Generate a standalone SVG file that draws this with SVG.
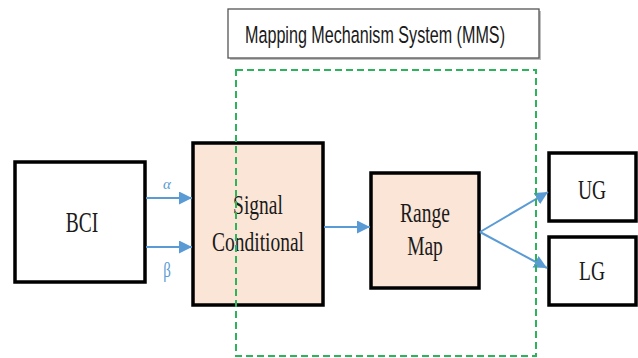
<svg xmlns="http://www.w3.org/2000/svg" width="638" height="358" viewBox="0 0 638 358">
<defs>
<style>
.box{fill:#ffffff;stroke:#000000;stroke-width:3.5}
.proc{fill:#FBE5D6;stroke:#000000;stroke-width:3.5}
.lbl{font-family:'Times New Roman','Liberation Serif','DejaVu Serif',serif;font-size:19.5px;fill:#1a1a1a;text-anchor:middle}
.conn{stroke:#5B9BD5;stroke-width:2;fill:none}
.greek{font-family:'Times New Roman','Liberation Serif',serif;fill:#5B9BD5;text-anchor:middle}
</style>
<marker id="ah" viewBox="0 0 10 10" refX="10" refY="5" markerWidth="6.5" markerHeight="6.5" orient="auto" markerUnits="strokeWidth">
<path d="M0,0 L10,5 L0,10 z" fill="#5B9BD5"/>
</marker>
</defs>
<rect width="638" height="358" fill="#ffffff"/>

<g id="mms-title">
<rect x="230" y="11" width="311" height="49" fill="#bfbfbf"/>
<rect x="228" y="9" width="311" height="49" fill="#ffffff" stroke="#555555" stroke-width="1.3"/>
<text transform="translate(245,43) scale(1,1.4)" font-family="'Liberation Sans', Arial, sans-serif" font-size="16.5" fill="#1a1a1a" textLength="260" lengthAdjust="spacingAndGlyphs">Mapping Mechanism System (MMS)</text>
</g>

<g id="bci">
<rect class="box" x="15" y="162" width="130" height="120"/>
<text class="lbl" transform="translate(82,232) scale(1,1.5)">BCI</text>
</g>

<g id="signal-conditional">
<rect class="proc" x="193" y="143" width="130" height="162"/>
<text class="lbl" transform="translate(258,214) scale(1,1.45)">Signal</text>
<text class="lbl" transform="translate(258,251) scale(1,1.45)">Conditional</text>
</g>

<g id="range-map">
<rect class="proc" x="371" y="173" width="108" height="115"/>
<text class="lbl" transform="translate(425,222) scale(1,1.45)">Range</text>
<text class="lbl" transform="translate(425,255) scale(1,1.45)">Map</text>
</g>

<g id="ug">
<rect class="box" x="549" y="153" width="87" height="68"/>
<text class="lbl" transform="translate(592,199) scale(1,1.35)" font-size="20">UG</text>
</g>

<g id="lg">
<rect class="box" x="549" y="237" width="87" height="68"/>
<text class="lbl" transform="translate(592,280) scale(1,1.35)" font-size="20">LG</text>
</g>

<g id="connectors">
<line class="conn" x1="146" y1="198" x2="192" y2="198" marker-end="url(#ah)"/>
<line class="conn" x1="146" y1="247" x2="192" y2="247" marker-end="url(#ah)"/>
<line class="conn" x1="324" y1="227" x2="370" y2="227" marker-end="url(#ah)"/>
<line class="conn" x1="480" y1="232" x2="548" y2="192" marker-end="url(#ah)"/>
<line class="conn" x1="480" y1="232" x2="547" y2="268" marker-end="url(#ah)"/>
<text class="greek" font-style="italic" font-size="15" x="167" y="189">α</text>
<text class="greek" transform="translate(167,277) scale(1,1.4)" font-size="15">β</text>
</g>

<g id="mms-boundary">
<rect x="236" y="70" width="300" height="286" fill="none" stroke="#2DB45A" stroke-width="2" stroke-dasharray="7,4"/>
</g>
</svg>
